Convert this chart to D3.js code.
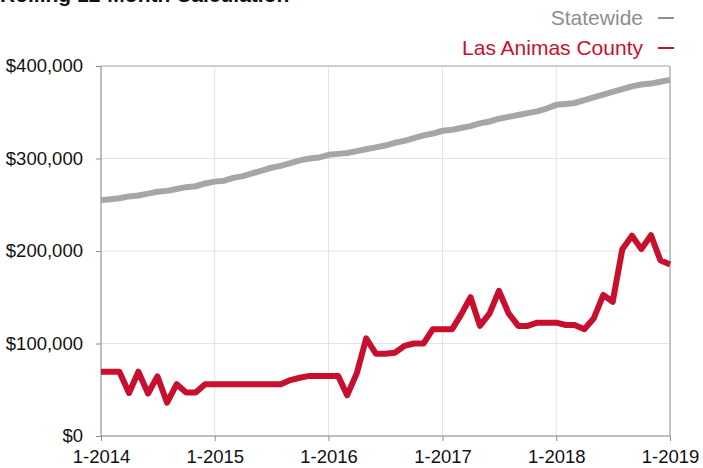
<!DOCTYPE html>
<html>
<head>
<meta charset="utf-8">
<script src="https://cdn.jsdelivr.net/npm/d3@7"></script>
<style>
body { margin: 0; background: #fff; }
svg text { font-family: "Liberation Sans", Arial, Helvetica, sans-serif; }
.grid line { stroke: #e3e3e3; stroke-width: 1; }
.axis path, .axis line { stroke: #8c8c8c; }
.axis text { font-size: 18.5px; fill: #111; }
</style>
</head>
<body>
<svg id="chart" width="703" height="468"></svg>
<script>

// monthly values in $ thousands, Jan 2014 .. Jan 2019
var statewide = [
  255, 256, 257, 259, 260, 262, 264, 265, 267, 269, 270, 273,
  275, 276, 279, 281, 284, 287, 290, 292, 295, 298, 300, 301,
  304, 305, 306, 308, 310, 312, 314, 317, 319, 322, 325, 327,
  330, 331, 333, 335, 338, 340, 343, 345, 347, 349, 351, 354,
  358, 359, 360, 363, 366, 369, 372, 375, 378, 380, 381, 383,
  385
];
var lasAnimas = [
  69.5, 69.5, 69.5, 46.5, 69.5, 46, 64.5, 36, 56, 47, 47, 56,
  56, 56, 56, 56, 56, 56, 56, 56, 60.5, 63, 65, 65,
  65, 65, 44, 68, 105.5, 89, 89, 90, 97.5, 100, 100, 115.5,
  115.5, 115.5, 131, 150, 119, 132.5, 157, 132.5, 119, 119, 122.5, 122.5,
  122.5, 120, 120, 115.5, 127, 152.5, 145, 202, 216.5, 202, 217, 190,
  185.5
];
var yTicks = [0, 100000, 200000, 300000, 400000];
var xTickLabels = ["1-2014", "1-2015", "1-2016", "1-2017", "1-2018", "1-2019"];
var seriesNames = ["Statewide", "Las Animas County"];
var lineColors = ["#a6a6a6", "#c8102e"];
var legendColors = ["#8e8e8e", "#c8102e"];

var months = d3.timeMonth.range(new Date(2014, 0, 1), new Date(2019, 0, 2));
var xTicks = xTickLabels.map(function(s){
  var p = s.split("-");
  return new Date(+p[1], +p[0] - 1, 1);
});

var svg = d3.select("#chart");
var mLeft = 101, mRight = 670, mTop = 66, mBottom = 436;

var x = d3.scaleTime().domain([months[0], months[months.length - 1]]).range([mLeft, mRight]);
var y = d3.scaleLinear().domain([0, 400000]).range([mBottom, mTop]);

// title (mostly cropped off the top)
svg.append("text")
  .attr("x", 0).attr("y", 2)
  .attr("font-size", 21).attr("font-weight", "bold").attr("fill", "#111")
  .text("Rolling 12-Month Calculation");

// grid
var grid = svg.append("g").attr("class", "grid");
grid.selectAll(".h").data(yTicks).enter().append("line")
  .attr("x1", mLeft).attr("x2", mRight)
  .attr("y1", function(d){ return y(d); }).attr("y2", function(d){ return y(d); });
grid.selectAll(".v").data(xTicks).enter().append("line")
  .attr("y1", mTop).attr("y2", mBottom)
  .attr("x1", function(d){ return x(d); }).attr("x2", function(d){ return x(d); });

// top and right frame
svg.append("line").attr("x1", mLeft).attr("x2", mRight).attr("y1", mTop).attr("y2", mTop)
  .attr("stroke", "#c4c4c4").attr("stroke-width", 1.5);
svg.append("line").attr("x1", mRight).attr("x2", mRight).attr("y1", mTop).attr("y2", mBottom)
  .attr("stroke", "#c4c4c4").attr("stroke-width", 2);

// axes
svg.append("g").attr("class", "axis")
  .attr("transform", "translate(" + mLeft + ",0)")
  .call(d3.axisLeft(y).tickValues(yTicks).tickSize(5).tickPadding(13)
    .tickFormat(function(d){ return "$" + d3.format(",")(d); }))
  .call(function(g){ g.select(".domain").attr("d", "M0," + mTop + "V" + mBottom); });

svg.append("g").attr("class", "axis")
  .attr("transform", "translate(0," + mBottom + ")")
  .call(d3.axisBottom(x).tickValues(xTicks).tickSize(5).tickPadding(9)
    .tickFormat(function(d, i){ return xTickLabels[i]; }))
  .call(function(g){ g.select(".domain").attr("d", "M" + mLeft + ",0H" + mRight); });

// lines
var line = d3.line()
  .x(function(d, i){ return x(months[i]); })
  .y(function(d){ return y(d * 1000); });

[statewide, lasAnimas].forEach(function(s, k){
  svg.append("path")
    .datum(s)
    .attr("fill", "none")
    .attr("stroke", lineColors[k])
    .attr("stroke-width", 6)
    .attr("stroke-linejoin", "round")
    .attr("d", line);
});

// legend
var legend = svg.append("g");
seriesNames.forEach(function(name, k){
  var ly = 25 + k * 30;
  legend.append("text")
    .attr("x", 643).attr("y", ly)
    .attr("text-anchor", "end")
    .attr("font-size", 21)
    .attr("fill", legendColors[k])
    .text(name);
  legend.append("line")
    .attr("x1", 658).attr("x2", 674)
    .attr("y1", ly - 7).attr("y2", ly - 7)
    .attr("stroke", legendColors[k])
    .attr("stroke-width", 2);
});

</script>
</body>
</html>
